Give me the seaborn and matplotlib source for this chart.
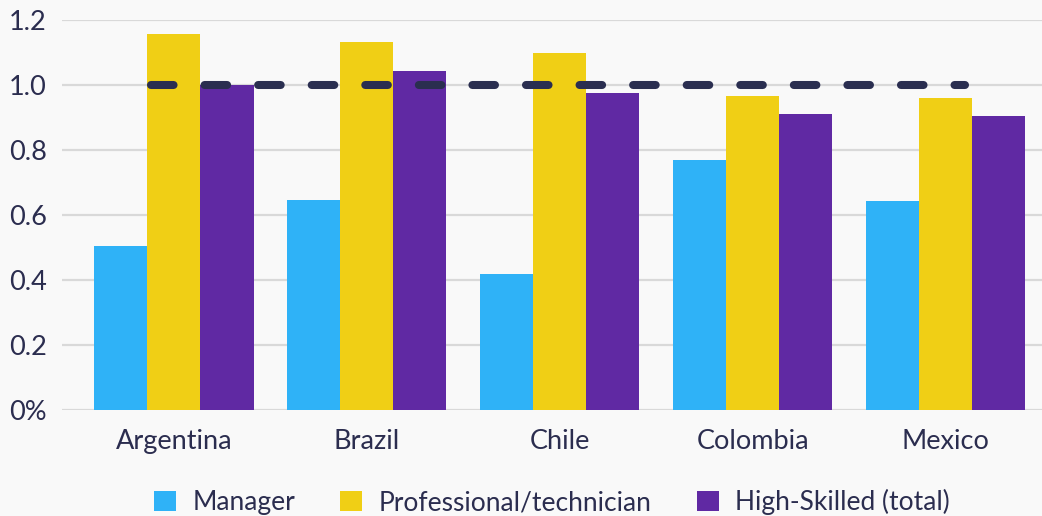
import matplotlib
matplotlib.use("Agg")
import matplotlib.pyplot as plt
import seaborn as sns
import pandas as pd

countries = ["Argentina", "Brazil", "Chile", "Colombia", "Mexico"]
manager = [0.505, 0.646, 0.418, 0.769, 0.643]
professional = [1.157, 1.132, 1.098, 0.966, 0.960]
high_skilled = [1.000, 1.043, 0.975, 0.911, 0.905]
series_names = ["Manager", "Professional/technician", "High-Skilled (total)"]
reference_value = 1.0
y_ticks = [0, 0.2, 0.4, 0.6, 0.8, 1.0, 1.2]
y_tick_labels = ["0%", "0.2", "0.4", "0.6", "0.8", "1.0", "1.2"]

colors = ["#2fb2f7", "#f0cf15", "#6029a3"]
bg = "#f9f9f9"
text_color = "#2b2d4f"
grid_color = "#d9d9d9"

rows = []
for name, vals in zip(series_names, [manager, professional, high_skilled]):
    for c, v in zip(countries, vals):
        rows.append({"country": c, "series": name, "value": v})
df = pd.DataFrame(rows)

sns.set_theme(style="white")
plt.rcParams["font.family"] = ["Lato", "DejaVu Sans"]

fig = plt.figure(figsize=(10.42, 5.16), dpi=100, facecolor=bg)
ax = fig.add_axes([62 / 1042, 106 / 516, 980 / 1042, 390 / 516])
ax.set_facecolor(bg)

group_w = 0.826
sns.barplot(data=df, x="country", y="value", hue="series", order=countries,
            hue_order=series_names, palette=colors, width=group_w, gap=0,
            saturation=1, ax=ax, errorbar=None, linewidth=0, zorder=3)

bar_w = group_w / 3
ax.plot([-bar_w / 2 + 0.02, len(countries) - 1 + 0.1],
        [reference_value, reference_value], color="#2a2e50", lw=5.8,
        dashes=(2.8, 3.85), dash_capstyle="round", solid_capstyle="round",
        zorder=4)

ax.set_ylim(0, 1.2)
ax.set_xlim(-0.58, 4.5)
ax.set_yticks(y_ticks)
ax.set_yticklabels(y_tick_labels)
ax.grid(axis="y", color=grid_color, lw=1.6, zorder=0)
ax.set_axisbelow(True)
for s in ax.spines.values():
    s.set_visible(False)
ax.set_xlabel("")
ax.set_ylabel("")
ax.tick_params(axis="y", length=0, pad=11, labelsize=19.5, labelcolor=text_color)
ax.tick_params(axis="x", length=0, pad=14, labelsize=19.5, labelcolor=text_color)

leg = ax.legend(loc="center", bbox_to_anchor=(0.5, -0.236), ncol=3,
                frameon=False, fontsize=19, handlelength=0.83,
                handleheight=0.83, handletextpad=0.64, columnspacing=1.7,
                labelcolor=text_color, borderaxespad=0)

fig.savefig("out.png", dpi=100, facecolor=bg)
